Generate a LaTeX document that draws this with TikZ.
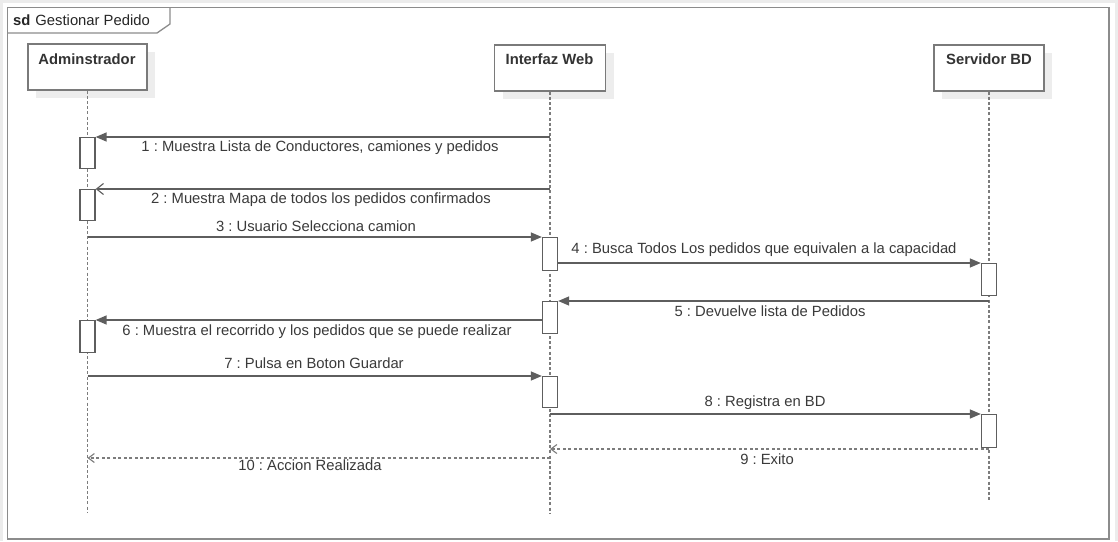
\documentclass[tikz,border=0pt]{standalone}
\usepackage{fontspec}
\setmainfont{Liberation Sans}
\usetikzlibrary{arrows.meta}
\frenchspacing

\definecolor{pagegray}{HTML}{ECECEC}
\definecolor{framegray}{HTML}{8C8C8C}
\definecolor{boxgray}{HTML}{7A7A7A}
\definecolor{shadowgray}{HTML}{EDEDED}
\definecolor{linegray}{HTML}{5E5E5E}
\definecolor{lifegray}{HTML}{7C7C7C}
\definecolor{textgray}{HTML}{3A3A3A}

\tikzset{
  txt/.style={font=\fontsize{14.8}{17}\selectfont, text=textgray, inner sep=0pt},
  head/.style={draw=boxgray, line width=1.6pt, fill=white, inner sep=0pt,
               minimum height=46pt, anchor=north},
  headtxt/.style={txt, font=\fontsize{14.8}{17}\selectfont\bfseries, text=black!80},
  act/.style={draw=linegray, line width=1.3pt, fill=white, inner sep=0pt,
              minimum width=15pt, anchor=north},
  life/.style={draw=lifegray, line width=1.2pt, dash pattern=on 3pt off 2.2pt},
  msg/.style={draw=linegray, line width=1.4pt},
  reply/.style={draw=lifegray, line width=1.3pt, dash pattern=on 3pt off 2.5pt},
  filled/.style={-{Triangle[length=11pt,width=9pt]}},
  open/.style={-{Straight Barb[length=7pt,width=11pt,line width=1.1pt]}},
  openS/.style={-{Straight Barb[length=6pt,width=9pt,line width=1.1pt]}},
}

\begin{document}
\begin{tikzpicture}[x=1pt,y=-1pt]
  % page and frame
  \fill[pagegray] (0,0) rectangle (1118,541);
  \fill[white] (3,3) rectangle (1115,541);
  \useasboundingbox (0,0) rectangle (1118,541);
  \draw[framegray, line width=1.5pt] (7.5,7.5) rectangle (1109,539);
  \draw[framegray, line width=1.3pt] (7.5,33) -- (157,33) -- (170,24) -- (170,7.5);
  \node[txt, anchor=west, text=black!85] (title) at (13,20)
    {\textbf{sd}\hspace{5pt}Gestionar Pedido};

  % header shadows
  \fill[shadowgray] (36,52) rectangle (155,98);
  \fill[shadowgray] (502.5,53) rectangle (613.5,99);
  \fill[shadowgray] (942,53) rectangle (1052,99);

  % participants
  \node[head, minimum width=119pt] (admin) at (87.5,43) {};
  \node[head, minimum width=111pt] (web) at (550,44) {};
  \node[head, minimum width=110pt] (bd) at (989,44) {};
  \node[headtxt] (adminT) at (87,59) {Adminstrador};
  \node[headtxt] (webT) at (549.5,59.5) {Interfaz Web};
  \node[headtxt] (bdT) at (989,59.5) {Servidor BD};

  % lifelines
  \coordinate (adminEnd) at (87.5,513);
  \coordinate (webEnd) at (550,513);
  \coordinate (bdEnd) at (989,501);
  \draw[life] (admin.south) -- (adminEnd);
  \draw[life] (web.south) -- (webEnd);
  \draw[life] (bd.south) -- (bdEnd);

  % activations
  \node[act, minimum height=31pt] (a1) at (87.5,137) {};
  \node[act, minimum height=31pt] (a2) at (87.5,189) {};
  \node[act, minimum height=33pt] (w3) at (550,237) {};
  \node[act, minimum height=32pt] (b4) at (989,263) {};
  \node[act, minimum height=32pt] (w5) at (550,301) {};
  \node[act, minimum height=32pt] (a6) at (87.5,320) {};
  \node[act, minimum height=31pt] (w7) at (550,376) {};
  \node[act, minimum height=33pt] (b8) at (989,414) {};

  % messages
  \draw[msg, filled] (web.south |- a1.north) -- (a1.north east);
  \draw[msg, open]   (web.south |- a2.north) -- (a2.north east);
  \draw[msg, filled] (admin.south |- w3.north) -- (w3.north west);
  \draw[msg, filled] (w3.east |- b4.north) -- (b4.north west);
  \draw[msg, filled] (bd.south |- w5.north) -- (w5.north east);
  \draw[msg, filled] (w5.west |- a6.north) -- (a6.north east);
  \draw[msg, filled] (admin.south |- w7.north) -- (w7.north west);
  \draw[msg, filled] (web.south |- b8.north) -- (b8.north west);
  \coordinate (r9) at (989,449);
  \coordinate (r10) at (550,458);
  \draw[reply, openS] (r9) -- (web.south |- r9);
  \draw[reply, openS] (r10) -- (admin.south |- r10);

  % message labels
  \node[txt] (l1) at (320,148) {1 : Muestra Lista de Conductores, camiones y pedidos};
  \node[txt] (l2) at (321,200) {2 : Muestra Mapa de todos los pedidos confirmados};
  \node[txt] (l3) at (316,226) {3 : Usuario Selecciona camion};
  \node[txt] (l4) at (764,250) {4 : Busca Todos Los pedidos que equivalen a la capacidad};
  \node[txt] (l5) at (770,311) {5 : Devuelve lista de Pedidos};
  \node[txt] (l6) at (317,332) {6 : Muestra el recorrido y los pedidos que se puede realizar};
  \node[txt] (l7) at (314,363) {7 : Pulsa en Boton Guardar};
  \node[txt] (l8) at (765,403) {8 : Registra en BD};
  \node[txt] (l9) at (767,459) {9 : Exito};
  \node[txt] (l10) at (310,465) {10 : Accion Realizada};
\end{tikzpicture}
\end{document}
